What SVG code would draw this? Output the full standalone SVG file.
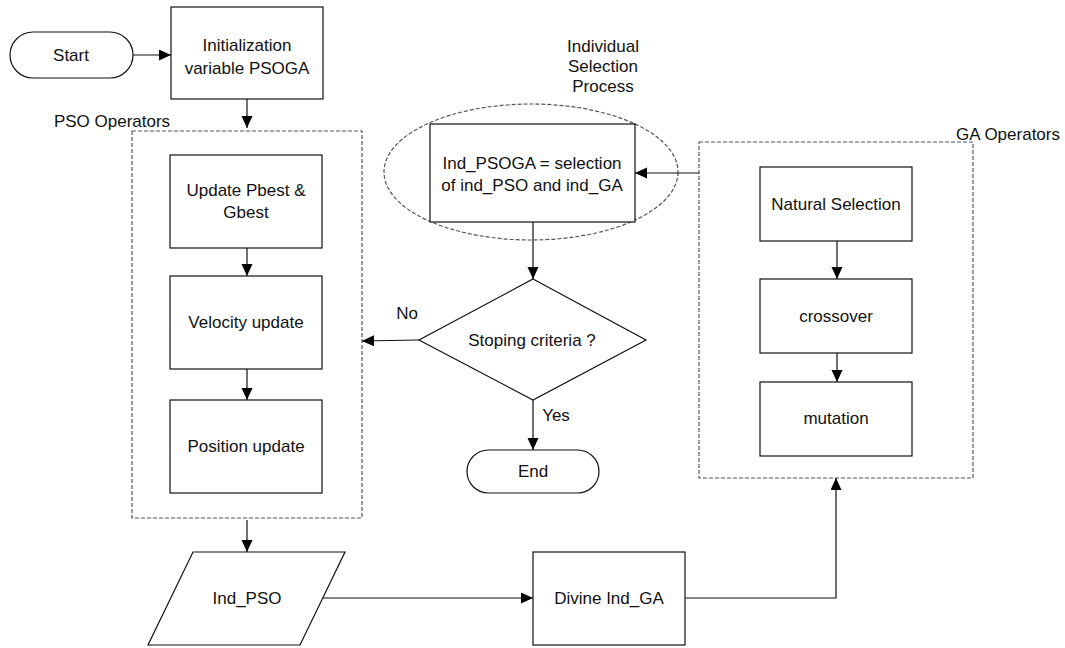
<svg xmlns="http://www.w3.org/2000/svg" width="1065" height="648" viewBox="0 0 1065 648">
<style>
text{font-family:"Liberation Sans",Arial,sans-serif;font-size:17px;fill:#111;text-anchor:middle}
.box{fill:#fff;stroke:#111;stroke-width:1.2}
.dash{fill:none;stroke:#555;stroke-width:1.2;stroke-dasharray:4,2}
.conn{fill:none;stroke:#111;stroke-width:1.2;marker-end:url(#ah)}
</style>
<defs>
<marker id="ah" markerUnits="userSpaceOnUse" markerWidth="13" markerHeight="12" viewBox="0 0 13 12" refX="12" refY="5.5" orient="auto">
<path d="M0,0 L12,5.5 L0,11 z" fill="#000"/>
</marker>
</defs>
<rect width="1065" height="648" fill="#fff"/>

<g id="pso-group">
<rect class="dash" x="132" y="131" width="230" height="387"/>
<text x="112" y="127">PSO Operators</text>
</g>
<g id="ga-group">
<rect class="dash" x="699" y="142" width="274" height="336"/>
<text x="1008" y="140">GA Operators</text>
</g>
<g id="selection-group">
<ellipse class="dash" cx="531" cy="172" rx="147" ry="68"/>
<text x="603" y="52">Individual</text>
<text x="603" y="72">Selection</text>
<text x="603" y="92">Process</text>
</g>

<g id="connectors">
<path class="conn" d="M133,55 H171"/>
<path class="conn" d="M247,99 V128"/>
<path class="conn" d="M247,248 V276"/>
<path class="conn" d="M247,369 V400"/>
<path class="conn" d="M699,173 H635"/>
<path class="conn" d="M533,222 V279"/>
<path class="conn" d="M419,340 L362,341"/>
<path class="conn" d="M533,400 V450"/>
<path class="conn" d="M837,241 V279"/>
<path class="conn" d="M837,353 V382"/>
<path class="conn" d="M247,520 V552"/>
<path class="conn" d="M323,598 H533"/>
<path class="conn" d="M685,598 H836 V478"/>
<text x="407" y="319">No</text>
<text x="556" y="421">Yes</text>
</g>

<g id="start">
<rect class="box" x="10" y="32" width="123" height="46" rx="23" ry="23"/>
<text x="71" y="61">Start</text>
</g>
<g id="init">
<rect class="box" x="171" y="7" width="152" height="92"/>
<text x="247" y="51">Initialization</text>
<text x="247" y="74">variable PSOGA</text>
</g>
<g id="update">
<rect class="box" x="170" y="155" width="152" height="93"/>
<text x="246" y="196">Update Pbest &amp;</text>
<text x="246" y="218">Gbest</text>
</g>
<g id="velocity">
<rect class="box" x="170" y="276" width="152" height="93"/>
<text x="246" y="328">Velocity update</text>
</g>
<g id="position">
<rect class="box" x="170" y="400" width="152" height="93"/>
<text x="246" y="452">Position update</text>
</g>
<g id="selection">
<rect class="box" x="430" y="124" width="205" height="98"/>
<text x="532" y="169">Ind_PSOGA = selection</text>
<text x="532" y="191">of ind_PSO and ind_GA</text>
</g>
<g id="decision">
<polygon class="box" points="533,279 646,340 533,400 419,340"/>
<text x="532" y="346">Stoping criteria ?</text>
</g>
<g id="end">
<rect class="box" x="467" y="450" width="132" height="43" rx="21.5" ry="21.5"/>
<text x="533" y="477">End</text>
</g>
<g id="natural">
<rect class="box" x="760" y="167" width="152" height="74"/>
<text x="836" y="210">Natural Selection</text>
</g>
<g id="crossover">
<rect class="box" x="760" y="279" width="152" height="74"/>
<text x="836" y="322">crossover</text>
</g>
<g id="mutation">
<rect class="box" x="760" y="382" width="152" height="74"/>
<text x="836" y="424">mutation</text>
</g>
<g id="ind-pso">
<polygon class="box" points="193,552 345,552 300,645 148,645"/>
<text x="247" y="604">Ind_PSO</text>
</g>
<g id="divine">
<rect class="box" x="533" y="552" width="152" height="93"/>
<text x="609" y="604">Divine Ind_GA</text>
</g>
</svg>
